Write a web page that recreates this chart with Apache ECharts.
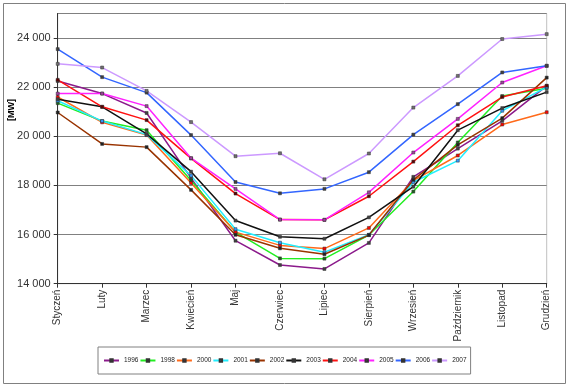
<!DOCTYPE html>
<html><head><meta charset="utf-8">
<script src="https://cdn.jsdelivr.net/npm/echarts@6/dist/echarts.min.js"></script>
<style>html,body{margin:0;padding:0;background:#fff}#c{width:570px;height:388px}</style>
</head><body><div id="c"></div>
<script>
const months = ['Styczeń','Luty','Marzec','Kwiecień','Maj','Czerwiec','Lipiec','Sierpień','Wrzesień','Październik','Listopad','Grudzień'];
const years = ['1996','1998','2000','2001','2002','2003','2004','2005','2006','2007'];
const y1996 = [22250, 21740, 20950, 18300, 15750, 14760, 14600, 15660, 18350, 19500, 20630, 22050];
const y1998 = [21350, 20620, 20250, 18200, 16100, 15030, 15020, 15980, 17750, 19750, 21640, 21960];
const y2000 = [21600, 20570, 20050, 18100, 16100, 15560, 15430, 16270, 18200, 19220, 20480, 20980];
const y2001 = [21450, 20620, 20070, 18400, 16220, 15670, 15280, 15990, 18130, 19010, 21040, 22000];
const y2002 = [20970, 19690, 19560, 17820, 15990, 15440, 15200, 15980, 18230, 19650, 20740, 22390];
const y2003 = [21510, 21200, 20100, 18560, 16570, 15910, 15830, 16700, 17950, 20250, 21150, 21800];
const y2004 = [22300, 21200, 20660, 19100, 17670, 16610, 16600, 17560, 18970, 20450, 21600, 22060];
const y2005 = [21740, 21740, 21230, 19110, 17860, 16610, 16600, 17720, 19340, 20710, 22190, 22870];
const y2006 = [23550, 22410, 21780, 20050, 18140, 17680, 17860, 18540, 20070, 21310, 22600, 22870];
const y2007 = [22950, 22800, 21850, 20580, 19190, 19310, 18250, 19300, 21170, 22460, 23960, 24160];
const seriesData = [y1996, y1998, y2000, y2001, y2002, y2003, y2004, y2005, y2006, y2007];

const lineColors = ['#8B1A8B','#22EE22','#FF6A1A','#22EEFF','#993300','#111111','#FF1111','#FF22FF','#3366FF','#CC99FF'];
const markColors = ['#404040','#206020','#FF0000','#3399FF','#202020','#404040','#600000','#A040A0','#404040','#707070'];

const chart = echarts.init(document.getElementById('c'), null, {renderer:'canvas'});
chart.setOption({
  animation:false,
  backgroundColor:'#fff',
  grid:{left:57.7, right:23.3, top:13.5, bottom:104.3, show:true, borderColor:'#c0c0c0', borderWidth:1},
  legend:{
    left:98, top:347, orient:'horizontal',
    padding:[10,4,10,5], borderColor:'#808080', borderWidth:1,
    itemWidth:15, itemHeight:3, itemGap:1,
    textStyle:{fontSize:6.5, fontFamily:'Liberation Sans', color:'#222'},
    data: years
  },
  graphic:[
    {type:'rect', silent:true, z:-1, shape:{x:3.5,y:3.5,width:562,height:380}, style:{fill:'none', stroke:'#808080', lineWidth:1}},
    {type:'text', x:12, y:110, rotation:Math.PI/2, style:{text:'[MW]', font:'bold 9px "Liberation Sans"', fill:'#000', align:'center', verticalAlign:'middle'}}
  ],
  xAxis:{
    type:'category', data:months, boundaryGap:false,
    axisLine:{lineStyle:{color:'#333', width:1}},
    axisTick:{show:true, alignWithLabel:true, length:4, lineStyle:{color:'#333'}},
    axisLabel:{rotate:90, fontSize:10, fontFamily:'Liberation Sans', color:'#333', margin:6, interval:0}
  },
  yAxis:{
    type:'value', min:14000, max:25000, interval:2000,
    axisLine:{show:true, lineStyle:{color:'#333', width:1}},
    axisTick:{show:true, length:4, lineStyle:{color:'#333'}},
    axisLabel:{fontSize:11, fontFamily:'Liberation Sans', color:'#333', margin:7, showMaxLabel:false,
      formatter: v => String(v).replace(/\B(?=(\d{3})+(?!\d))/g,' ')},
    splitLine:{show:true, lineStyle:{color:'#808080', width:1}}
  },
  series: years.map((y,i)=>({
    name:y, type:'line', data:seriesData[i],
    symbol:'rect', symbolSize:3, showSymbol:true,
    lineStyle:{color:lineColors[i], width:1.5},
    itemStyle:{color:markColors[i], borderColor:'#333', borderWidth:0.5},
    emphasis:{disabled:true}
  }))
});
</script></body></html>
